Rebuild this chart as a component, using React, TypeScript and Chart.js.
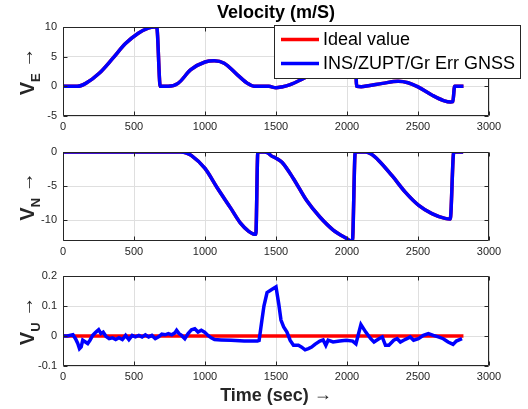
import React, { useEffect, useRef } from 'react';
import { Chart, registerables } from 'chart.js';
Chart.register(...registerables);

const FONT = '"Liberation Sans", Arial, Helvetica, sans-serif';

const titleText = 'Velocity (m/S)';
const xLabelText = 'Time (sec)';
const legendLabels = ['Ideal value', 'INS/ZUPT/Gr Err GNSS'];
const xTickValues = [0, 500, 1000, 1500, 2000, 2500, 3000];
const xTickLabels = ['0', '500', '1000', '1500', '2000', '2500', '3000'];

const eTickValues = [-5, 0, 5, 10];
const eTickLabels = ['-5', '0', '5', '10'];
const nTickValues = [-10, -5, 0];
const nTickLabels = ['-10', '-5', '0'];
const uTickValues = [-0.1, 0, 0.1, 0.2];
const uTickLabels = ['-0.1', '0', '0.1', '0.2'];

const veTime = [0, 100, 160, 255, 350, 440, 530, 600, 640, 660, 685, 740, 810, 900, 1000, 1065, 1135, 1230, 1300, 1345, 1450, 1500, 1540, 1600, 1690, 1740, 1800, 1880, 1960, 2030, 2058, 2068, 2100, 2150, 2250, 2360, 2430, 2500, 2600, 2680, 2730, 2745, 2758, 2820];
const veValues = [0, 0, 0.5, 2.2, 4.7, 7.2, 8.95, 9.8, 10, 10, 0, 0, 0.5, 2.8, 4.1, 4.3, 3.9, 1.9, 0.5, 0, 0, -0.25, -0.1, 0.3, 1.3, 1.9, 3.3, 4.8, 5.6, 5.4, 5.1, 0, -0.05, 0.1, 0.5, 0.85, 0.6, -0.1, -1.5, -2.4, -2.65, -2.6, 0, 0];

const vnTime = [0, 830, 870, 903, 1000, 1088, 1181, 1250, 1308, 1347, 1358, 1372, 1420, 1440, 1470, 1500, 1542, 1623, 1716, 1809, 1903, 1995, 2030, 2038, 2058, 2133, 2170, 2226, 2319, 2412, 2505, 2598, 2690, 2727, 2752, 2818];
const vnValues = [0, 0, -0.15, -0.5, -2.4, -5.3, -8.2, -10.4, -11.6, -12.0, -12.0, 0, 0, -0.1, -0.6, -0.9, -1.5, -3.9, -7.1, -9.5, -11.4, -12.6, -13.0, -13.0, 0, 0, -0.3, -1.3, -3.5, -5.9, -7.8, -9.0, -9.7, -9.8, 0, 0];

const vuTime = [0, 30, 70, 88, 104, 116, 128, 139, 158, 174, 190, 209, 232, 251, 267, 283, 302, 325, 348, 371, 394, 418, 441, 464, 487, 510, 534, 557, 580, 603, 626, 650, 673, 696, 719, 742, 766, 789, 800, 817, 835, 858, 881, 905, 928, 951, 974, 997, 1021, 1044, 1067, 1113, 1183, 1276, 1369, 1381, 1400, 1415, 1437, 1470, 1500, 1519, 1535, 1554, 1577, 1600, 1623, 1658, 1681, 1705, 1728, 1751, 1774, 1809, 1832, 1851, 1867, 1902, 1948, 1995, 2040, 2063, 2098, 2132, 2167, 2190, 2225, 2248, 2271, 2295, 2329, 2353, 2376, 2399, 2422, 2445, 2469, 2503, 2538, 2573, 2608, 2643, 2678, 2712, 2747, 2770, 2810];
const vuValues = [0, 0, 0.004, -0.009, -0.025, -0.042, -0.036, -0.014, -0.02, -0.025, -0.014, 0.002, 0.013, 0.021, 0.008, 0.013, -0.001, -0.009, -0.006, -0.012, -0.006, -0.012, 0.002, -0.012, 0.002, -0.003, 0.002, -0.003, 0.004, -0.003, 0.002, -0.009, -0.003, 0.006, 0.004, 0.008, 0.004, 0.011, 0.019, 0.008, 0.002, -0.009, 0.008, 0.021, 0.024, 0.013, 0.019, 0.013, 0.002, -0.006, -0.012, -0.013, -0.014, -0.017, -0.017, -0.015, 0.05, 0.1, 0.145, 0.155, 0.164, 0.108, 0.053, 0.03, 0.013, -0.015, -0.031, -0.031, -0.037, -0.046, -0.042, -0.037, -0.028, -0.017, -0.013, -0.031, -0.014, -0.02, -0.017, -0.014, -0.017, -0.026, 0.038, 0.013, -0.009, -0.02, -0.009, -0.003, -0.031, -0.031, -0.014, -0.009, -0.02, -0.014, -0.009, -0.003, -0.014, -0.009, 0.002, 0.008, 0.002, -0.003, -0.009, -0.02, -0.028, -0.017, -0.009];
const vuIdealTime = [0, 2820];
const vuIdealValues = [0, 0];

const RED = '#ff0000';
const BLUE = '#0000ff';
const AXIS_COLOR = '#262626';
const GRID_COLOR = '#dfdfdf';

type Panel = {
  top: number;
  bottom: number;
  yMin: number;
  yMax: number;
  yTicks: number[];
  yLabels: string[];
  sub: string;
  blue: { x: number; y: number }[];
  red: { x: number; y: number }[];
  smooth: boolean;
  title?: boolean;
  legend?: boolean;
  xlabel?: boolean;
};

const pts = (xs: number[], ys: number[]) => xs.map((x, i) => ({ x, y: ys[i] }));

const panels: Panel[] = [
  { top: 27, bottom: 116, yMin: -5, yMax: 10, yTicks: eTickValues, yLabels: eTickLabels, sub: 'E', blue: pts(veTime, veValues), red: pts(veTime, veValues), smooth: true, title: true, legend: true },
  { top: 152, bottom: 241, yMin: -13, yMax: 0, yTicks: nTickValues, yLabels: nTickLabels, sub: 'N', blue: pts(vnTime, vnValues), red: pts(vnTime, vnValues), smooth: true },
  { top: 276, bottom: 366, yMin: -0.1, yMax: 0.2, yTicks: uTickValues, yLabels: uTickLabels, sub: 'U', blue: pts(vuTime, vuValues), red: pts(vuIdealTime, vuIdealValues), smooth: false, xlabel: true },
];

const W = 528;
const H = 409;
const LEFT = 63;
const RIGHT = 489;
const XAXIS_H = 20;

function drawYLabel(ctx: CanvasRenderingContext2D, sub: string, cy: number) {
  const fV = `bold 20px ${FONT}`;
  const fS = `bold 13px ${FONT}`;
  const fA = `20px ${FONT}`;
  ctx.font = fV;
  const wV = ctx.measureText('V').width;
  ctx.font = fS;
  const wS = ctx.measureText(sub).width;
  ctx.font = fA;
  const wSp = ctx.measureText(' ').width;
  const wA = ctx.measureText('→').width;
  const total = wV + wS + wSp + wA;
  ctx.save();
  ctx.translate(34, cy);
  ctx.rotate(-Math.PI / 2);
  ctx.fillStyle = AXIS_COLOR;
  ctx.textAlign = 'left';
  ctx.textBaseline = 'alphabetic';
  let x = -total / 2;
  ctx.font = fV;
  ctx.fillText('V', x, 0);
  x += wV;
  ctx.font = fS;
  ctx.fillText(sub, x, 6);
  x += wS + wSp;
  ctx.font = fA;
  ctx.fillText('→', x, -1);
  ctx.restore();
}

function makePlugin(p: Panel) {
  return {
    id: 'matlabAxes',
    afterDraw(chart: any) {
      const ctx: CanvasRenderingContext2D = chart.ctx;
      const a = chart.chartArea;
      const xs = chart.scales.x;
      const ys = chart.scales.y;
      ctx.save();
      ctx.strokeStyle = AXIS_COLOR;
      ctx.lineWidth = 1;
      const l = Math.round(a.left) + 0.5;
      const t = Math.round(a.top) + 0.5;
      const r = Math.round(a.right) - 0.5;
      const b = Math.round(a.bottom) - 0.5;
      ctx.beginPath();
      ctx.rect(l, t, r - l, b - t);
      const tl = 4;
      xTickValues.forEach((v) => {
        const px = Math.round(xs.getPixelForValue(v)) + 0.5;
        ctx.moveTo(px, b);
        ctx.lineTo(px, b - tl);
        ctx.moveTo(px, t);
        ctx.lineTo(px, t + tl);
      });
      p.yTicks.forEach((v) => {
        const py = Math.round(ys.getPixelForValue(v)) + 0.5;
        ctx.moveTo(l, py);
        ctx.lineTo(l + tl, py);
        ctx.moveTo(r, py);
        ctx.lineTo(r - tl, py);
      });
      ctx.stroke();

      drawYLabel(ctx, p.sub, (a.top + a.bottom) / 2);

      if (p.title) {
        ctx.font = `bold 18px ${FONT}`;
        ctx.fillStyle = '#000';
        ctx.textAlign = 'center';
        ctx.textBaseline = 'alphabetic';
        ctx.fillText(titleText, (a.left + a.right) / 2, 18);
      }
      if (p.xlabel) {
        const fB = `bold 18px ${FONT}`;
        const fA = `18px ${FONT}`;
        ctx.font = fB;
        const s = xLabelText + ' ';
        const w1 = ctx.measureText(s).width;
        ctx.font = fA;
        const w2 = ctx.measureText('→').width;
        const x = (a.left + a.right) / 2 - (w1 + w2) / 2;
        ctx.fillStyle = AXIS_COLOR;
        ctx.textAlign = 'left';
        ctx.textBaseline = 'alphabetic';
        ctx.font = fB;
        ctx.fillText(s, x, 401);
        ctx.font = fA;
        ctx.fillText('→', x + w1, 400);
      }
      if (p.legend) {
        const bx = 274.5, by = 25.5, bw = 246, bh = 53;
        ctx.fillStyle = '#ffffff';
        ctx.fillRect(bx, by, bw, bh);
        ctx.strokeStyle = AXIS_COLOR;
        ctx.lineWidth = 1;
        ctx.strokeRect(bx, by, bw, bh);
        const rows = [
          { color: RED, y: 39.5, label: legendLabels[0] },
          { color: BLUE, y: 63.5, label: legendLabels[1] },
        ];
        ctx.font = `18px ${FONT}`;
        ctx.textAlign = 'left';
        ctx.textBaseline = 'middle';
        rows.forEach((row) => {
          ctx.strokeStyle = row.color;
          ctx.lineWidth = 3.5;
          ctx.beginPath();
          ctx.moveTo(281, row.y);
          ctx.lineTo(319, row.y);
          ctx.stroke();
          ctx.fillStyle = '#000';
          ctx.fillText(row.label, 323, row.y + 1);
        });
      }
      ctx.restore();
    },
  };
}

function PanelChart({ p }: { p: Panel }) {
  const ref = useRef<HTMLCanvasElement | null>(null);
  useEffect(() => {
    if (!ref.current) return;
    const chart = new Chart(ref.current, {
      type: 'line',
      data: {
        datasets: [
          {
            label: legendLabels[1],
            data: p.blue,
            borderColor: BLUE,
            borderWidth: 3.5,
            pointRadius: 0,
            fill: false,
            cubicInterpolationMode: p.smooth ? 'monotone' : 'default',
            tension: 0,
            order: 0,
          } as any,
          {
            label: legendLabels[0],
            data: p.red,
            borderColor: RED,
            borderWidth: 3.5,
            pointRadius: 0,
            fill: false,
            cubicInterpolationMode: p.smooth ? 'monotone' : 'default',
            tension: 0,
            order: 1,
          } as any,
        ],
      },
      options: {
        responsive: false,
        devicePixelRatio: 1,
        animation: false,
        events: [],
        layout: {
          padding: { left: 0, right: W - RIGHT, top: p.top, bottom: H - p.bottom - XAXIS_H },
        },
        plugins: { legend: { display: false }, tooltip: { enabled: false } },
        scales: {
          x: {
            type: 'linear',
            min: 0,
            max: 3000,
            afterBuildTicks: (s: any) => {
              s.ticks = xTickValues.map((v) => ({ value: v }));
            },
            afterFit: (s: any) => {
              s.height = XAXIS_H;
            },
            ticks: {
              padding: 4,
              color: AXIS_COLOR,
              font: { family: FONT, size: 11 },
              maxRotation: 0,
              autoSkip: false,
              callback: (v: any) => {
                const i = xTickValues.indexOf(Number(v));
                return i >= 0 ? xTickLabels[i] : '';
              },
            },
            grid: { color: GRID_COLOR, drawTicks: false, lineWidth: 1 },
            border: { display: false },
          },
          y: {
            type: 'linear',
            min: p.yMin,
            max: p.yMax,
            afterBuildTicks: (s: any) => {
              s.ticks = p.yTicks.map((v) => ({ value: v }));
            },
            afterFit: (s: any) => {
              s.width = LEFT;
            },
            ticks: {
              padding: 6,
              color: AXIS_COLOR,
              font: { family: FONT, size: 11 },
              autoSkip: false,
              callback: (v: any) => {
                const i = p.yTicks.findIndex((t) => Math.abs(t - Number(v)) < 1e-9);
                return i >= 0 ? p.yLabels[i] : '';
              },
            },
            grid: { color: GRID_COLOR, drawTicks: false, lineWidth: 1 },
            border: { display: false },
          },
        },
      } as any,
      plugins: [makePlugin(p)],
    });
    return () => chart.destroy();
  }, [p]);
  return (
    <canvas
      ref={ref}
      width={W}
      height={H}
      style={{ position: 'absolute', left: 0, top: 0, width: W, height: H }}
    />
  );
}

export default function App() {
  return (
    <div style={{ position: 'fixed', left: 0, top: 0, width: W, height: H, background: '#ffffff', overflow: 'hidden' }}>
      {panels.map((p, i) => (
        <PanelChart key={i} p={p} />
      ))}
    </div>
  );
}
